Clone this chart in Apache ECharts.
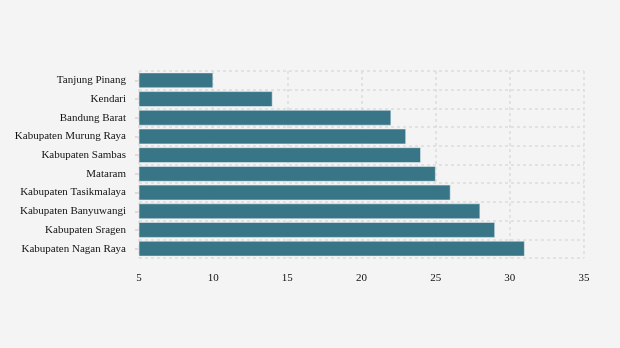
<!DOCTYPE html>
<html>
<head>
<meta charset="utf-8">
<script src="https://cdn.jsdelivr.net/npm/echarts@6/dist/echarts.min.js"></script>
<style>
  html, body { margin: 0; padding: 0; background: #f4f4f4; }
  #chart { width: 620px; height: 348px; }
</style>
</head>
<body>
<div id="chart"></div>
<script>
// Regions, listed bottom to top as they appear on the category axis
const regions = [
  'Kabupaten Nagan Raya',
  'Kabupaten Sragen',
  'Kabupaten Banyuwangi',
  'Kabupaten Tasikmalaya',
  'Mataram',
  'Kabupaten Sambas',
  'Kabupaten Murung Raya',
  'Bandung Barat',
  'Kendari',
  'Tanjung Pinang'
];
const values = [31, 29, 28, 26, 25, 24, 23, 22, 14, 10];
const xTicks = { min: 5, max: 35, step: 5 };

const chart = echarts.init(document.getElementById('chart'), null, { renderer: 'canvas' });
const serif = '"Liberation Serif", "DejaVu Serif", serif';
const gridLine = { show: true, lineStyle: { color: '#dcdcdc', type: [3, 3], width: 1.5 } };

chart.setOption({
  backgroundColor: '#f4f4f4',
  animation: false,
  grid: { left: 139, right: 36, top: 71, bottom: 90 },
  xAxis: {
    type: 'value',
    min: xTicks.min,
    max: xTicks.max,
    interval: xTicks.step,
    axisLine: { show: false },
    axisTick: { show: false },
    axisLabel: { fontFamily: serif, fontSize: 11, color: '#111', margin: 15 },
    splitLine: gridLine
  },
  yAxis: {
    type: 'category',
    data: regions,
    axisLine: { show: false },
    axisTick: { show: true, alignWithLabel: true, length: 4, lineStyle: { color: '#d4d4d4', width: 1.5 } },
    axisLabel: { fontFamily: serif, fontSize: 11, color: '#111', margin: 13 },
    splitLine: gridLine
  },
  series: [{
    type: 'bar',
    data: values,
    barCategoryGap: '17%',
    itemStyle: { color: '#2a6c7f', opacity: 0.94, borderColor: '#e8eff1', borderWidth: 0.6 }
  }]
});
</script>
</body>
</html>
